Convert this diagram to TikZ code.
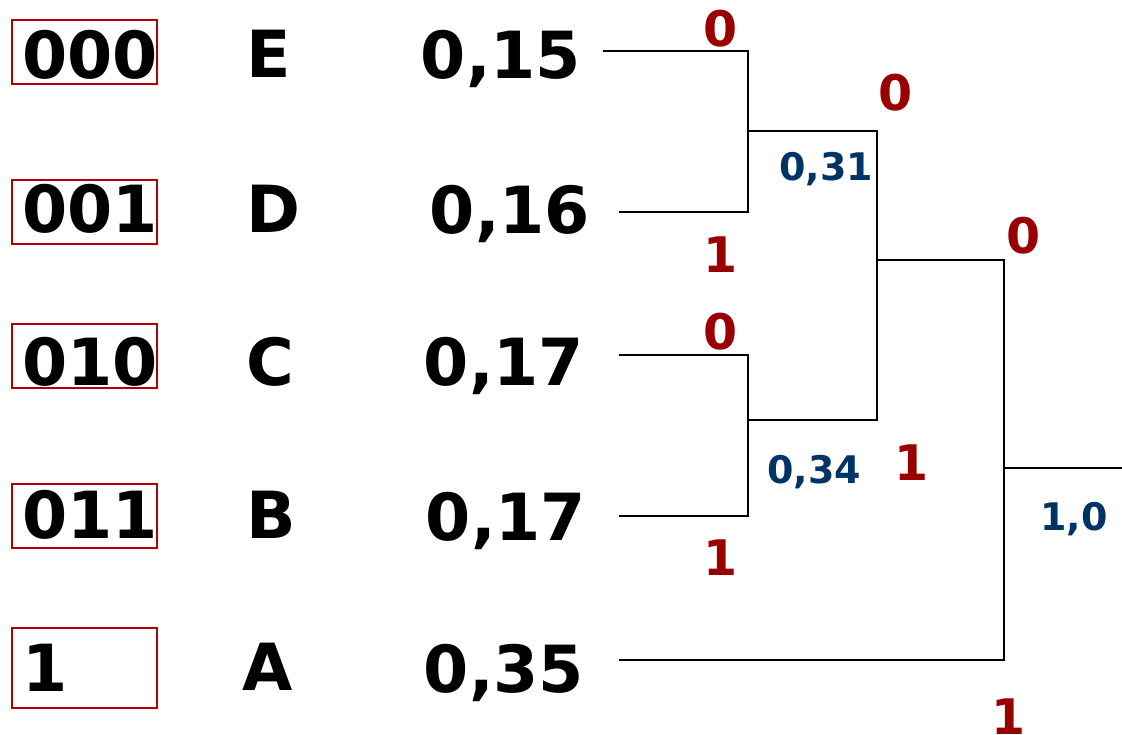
\documentclass[tikz,border=0pt]{standalone}
\usepackage{fontspec}
\setmainfont{DejaVu Sans}
\definecolor{bitred}{RGB}{153,0,0}
\definecolor{boxred}{RGB}{176,0,0}
\definecolor{sumblue}{RGB}{0,51,102}
\begin{document}
\begin{tikzpicture}[x=1pt,y=-1pt,
  big/.style={font=\fontsize{65}{65}\selectfont\bfseries, inner sep=0pt, anchor=base},
  codetxt/.style={big, anchor=base west},
  bit/.style={font=\fontsize{49}{49}\selectfont\bfseries, text=bitred, inner sep=0pt, anchor=base},
  sum/.style={font=\fontsize{38}{38}\selectfont\bfseries, text=sumblue, inner sep=0pt, anchor=base},
  codebox/.style={draw=boxred, line width=1.5pt},
  edge/.style={line width=1.4pt, line cap=rect}]
\useasboundingbox (0,0) rectangle (1122,734);

% code words with their frames
\draw[codebox] (12,20) rectangle (157,84);
\draw[codebox] (12,180) rectangle (157,244);
\draw[codebox] (12,324) rectangle (157,388);
\draw[codebox] (12,484) rectangle (157,548);
\draw[codebox] (12,628) rectangle (157,708);
\node[codetxt] (cE) at (22,78)  {000};
\node[codetxt] (cD) at (22,232) {001};
\node[codetxt] (cC) at (22,385) {010};
\node[codetxt] (cB) at (22,538) {011};
\node[codetxt] (cA) at (22,691) {1};

% symbols
\node[big] (sE) at (269,77)  {E};
\node[big] (sD) at (273,232) {D};
\node[big] (sC) at (270,385) {C};
\node[big] (sB) at (271,538) {B};
\node[big] (sA) at (268,690) {A};

% probabilities
\node[big] (pE) at (501,78)  {0,15};
\node[big] (pD) at (510,233) {0,16};
\node[big] (pC) at (504,385) {0,17};
\node[big] (pB) at (506,540) {0,17};
\node[big] (pA) at (504,692) {0,35};

% leaf ends and inner nodes of the tree
\coordinate (eE) at (604,51);
\coordinate (eD) at (620,212);
\coordinate (eC) at (620,355);
\coordinate (eB) at (620,516);
\coordinate (eA) at (620,660);
\coordinate (n31) at (748,131);
\coordinate (n34) at (748,420);
\coordinate (n65) at (877,260);
\coordinate (root) at (1004,468);
\coordinate (out) at (1122,468);

\draw[edge] (eE) -| (n31);
\draw[edge] (eD) -| (n31);
\draw[edge] (eC) -| (n34);
\draw[edge] (eB) -| (n34);
\draw[edge] (n31) -| (n65);
\draw[edge] (n34) -| (n65);
\draw[edge] (n65) -| (root);
\draw[edge] (eA) -| (root);
\draw[edge] (root) -- (out);

% branch bits
\node[bit] (bE) at (721,46)  {0};
\node[bit] (bD) at (721,272) {1};
\node[bit] (bC) at (721,349) {0};
\node[bit] (bB) at (721,575) {1};
\node[bit] (b31) at (896,110) {0};
\node[bit] (b34) at (912,480) {1};
\node[bit] (b65) at (1024,253) {0};
\node[bit] (bA) at (1009,734) {1};

% merged probabilities
\node[sum] (s31) at (826,180) {0,31};
\node[sum] (s34) at (814,483) {0,34};
\node[sum] (s1)  at (1074,530) {1,0};
\end{tikzpicture}
\end{document}
